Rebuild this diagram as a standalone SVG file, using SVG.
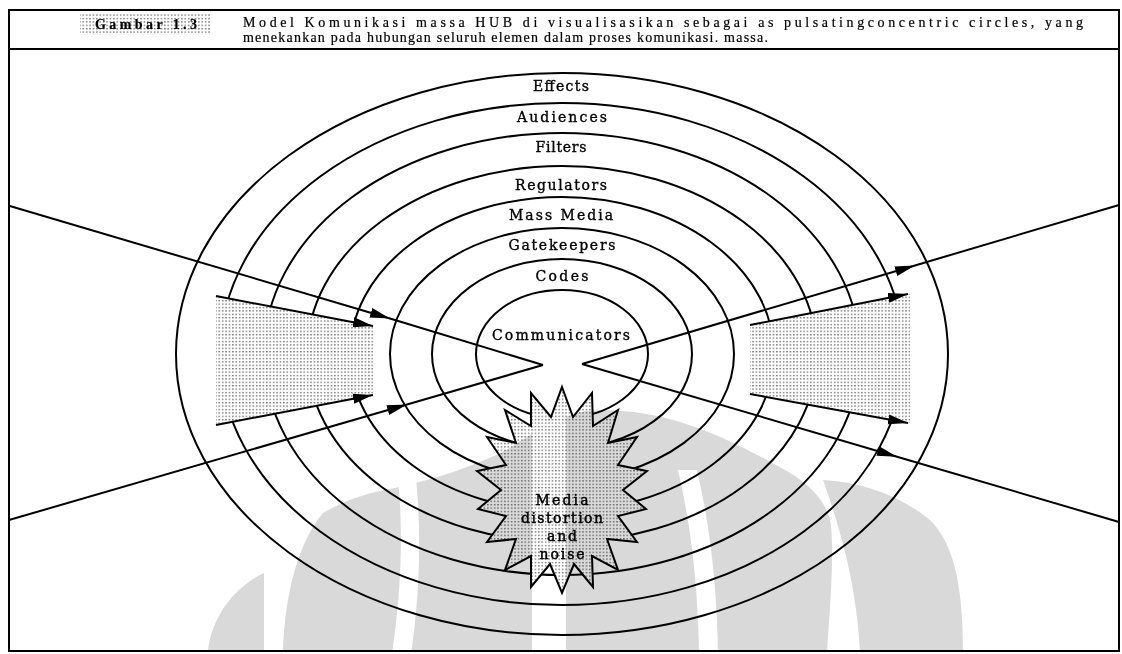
<svg xmlns="http://www.w3.org/2000/svg" width="1122" height="654" viewBox="0 0 1122 654">
<defs>
  <pattern id="stipple" width="3.4" height="3.4" patternUnits="userSpaceOnUse">
    <rect width="3.4" height="3.4" fill="#fff"/>
    <rect x="1" y="1" width="1.3" height="1.1" fill="#3a3a3a"/>
  </pattern>
  <marker id="head" markerUnits="userSpaceOnUse" markerWidth="22" markerHeight="12" refX="20" refY="6" orient="auto">
    <path d="M0,1 L20,6 L0,11 Z" fill="#000"/>
  </marker>
  <!-- light bands cut out of the emblem -->
  <mask id="emblem-cuts" maskUnits="userSpaceOnUse" x="0" y="0" width="1122" height="654">
    <rect width="1122" height="654" fill="#fff"/>
    <path d="M398,478 C404,540 400,600 392,654 L411,654 C419,600 422,540 416,478 Z" fill="#000"/>
    <path d="M532,380 L532,654 L566,654 L566,380 Z" fill="#000"/>
    <path d="M678,470 C692,530 698,590 699,654 L718,654 C717,590 711,530 697,470 Z" fill="#000"/>
  </mask>
  <style>
    .frame{fill:none;stroke:#000;stroke-width:2}
    .ring{fill:none;stroke:#000;stroke-width:2}
    .line{fill:none;stroke:#000;stroke-width:2}
    .arrow{fill:none;stroke:#000;stroke-width:2;marker-end:url(#head)}
    .through{fill:none;stroke:#000;stroke-width:2;marker-mid:url(#head)}
    .lbl{font-family:"DejaVu Serif","Liberation Serif",serif;font-size:14px;fill:#000;stroke:#000;stroke-width:0.35;text-anchor:middle}
    .burst{font-family:"DejaVu Serif","Liberation Serif",serif;font-size:14px;fill:#000;stroke:#000;stroke-width:0.45;text-anchor:middle}
    .hdr{font-family:"Liberation Serif","Times New Roman",serif;font-size:14px;fill:#000;stroke:#000;stroke-width:0.2}
    .mark{fill:#d9d9d9}
  </style>
</defs>

<rect width="1122" height="654" fill="#fff"/>

<!-- caption -->
<g id="header">
  <rect class="frame" x="9" y="10" width="1110" height="641"/>
  <line class="line" x1="9" y1="49" x2="1119" y2="49"/>
  <rect x="80" y="13" width="131" height="22" fill="url(#stipple)"/>
  <text class="hdr" x="146" y="28.5" text-anchor="middle" font-weight="bold" textLength="102" lengthAdjust="spacing">Gambar 1.3</text>
  <text class="hdr" x="243" y="27" textLength="840" lengthAdjust="spacing">Model Komunikasi massa HUB di visualisasikan sebagai  as pulsatingconcentric circles, yang</text>
  <text class="hdr" x="243" y="42" textLength="525" lengthAdjust="spacing">menekankan pada hubungan  seluruh elemen dalam proses komunikasi. massa.</text>
</g>

<!-- concentric layers -->
<g id="rings">
  <ellipse id="ring-effects" class="ring" cx="562" cy="354" rx="386" ry="281"/>
  <ellipse id="ring-audiences" class="ring" cx="562" cy="354" rx="342" ry="251"/>
  <ellipse id="ring-filters" class="ring" cx="562" cy="354" rx="298" ry="221"/>
  <ellipse id="ring-regulators" class="ring" cx="562" cy="354" rx="255" ry="188"/>
  <ellipse id="ring-massmedia" class="ring" cx="562" cy="354" rx="212" ry="157"/>
  <ellipse id="ring-gatekeepers" class="ring" cx="562" cy="354" rx="172" ry="126"/>
  <ellipse id="ring-codes" class="ring" cx="562" cy="354" rx="130" ry="95"/>
  <ellipse id="ring-communicators" class="ring" cx="562" cy="354" rx="86" ry="64"/>
</g>

<!-- shaded feedback channels -->
<g id="channel-left">
  <polygon points="216,296 373,326 373,395 216,425" fill="url(#stipple)"/>
</g>
<g id="channel-right">
  <polygon points="750,325 910,294 910,423 750,394" fill="url(#stipple)"/>
</g>

<!-- noise burst -->
<g id="noise">
  <polygon fill="url(#stipple)" stroke="#000" stroke-width="2" stroke-linejoin="miter"
    points="562,387 573,417 592,393 593,426 618,410 608,443 637,437 618,465 647,471 623,490 646,509 618,516 637,542 607,539 618,570 592,556 593,587 574,564 562,593 550,564 531,587 531,556 505,570 516,539 487,542 506,516 478,509 501,490 477,471 506,465 487,437 516,443 505,410 531,426 531,393 551,417"/>
  <text class="burst" x="562" y="505" textLength="53" lengthAdjust="spacing">Media</text>
  <text class="burst" x="562" y="523" textLength="82" lengthAdjust="spacing">distortion</text>
  <text class="burst" x="562" y="541" textLength="30" lengthAdjust="spacing">and</text>
  <text class="burst" x="562" y="559" textLength="45" lengthAdjust="spacing">noise</text>
</g>

<!-- connectors -->
<g id="connectors">
  <polyline class="through" points="9,205.7 390,318.5 543,365"/>
  <polyline class="through" points="9,520 407,404.5 543,365"/>
  <polyline class="through" points="582,364 915,265.5 1119,205"/>
  <polyline class="through" points="582,364 897,456.7 1119,522"/>
  <line class="arrow" x1="216" y1="296" x2="373" y2="326"/>
  <line class="arrow" x1="216" y1="425" x2="373" y2="395"/>
  <line class="arrow" x1="750" y1="325" x2="908" y2="294"/>
  <line class="arrow" x1="750" y1="394" x2="908" y2="423"/>
</g>

<!-- layer labels -->
<g id="labels">
  <text class="lbl" x="561" y="91" textLength="56" lengthAdjust="spacing">Effects</text>
  <text class="lbl" x="562" y="121.5" textLength="90" lengthAdjust="spacing">Audiences</text>
  <text class="lbl" x="561" y="151.5" textLength="51" lengthAdjust="spacing">Filters</text>
  <text class="lbl" x="561" y="190" textLength="92" lengthAdjust="spacing">Regulators</text>
  <text class="lbl" x="561" y="220" textLength="104" lengthAdjust="spacing">Mass Media</text>
  <text class="lbl" x="562" y="250" textLength="107" lengthAdjust="spacing">Gatekeepers</text>
  <text class="lbl" x="562" y="281" textLength="53" lengthAdjust="spacing">Codes</text>
  <text class="lbl" x="561" y="340" textLength="138" lengthAdjust="spacing">Communicators</text>
</g>

<!-- faint emblem printed over the lower half -->
<g id="emblem" style="mix-blend-mode:multiply" mask="url(#emblem-cuts)">
  <path class="mark" d="M208,651 C210,625 228,590 264,573 L264,651 Z"/>
  <path class="mark" d="M283,651 C285,590 300,540 323,513 C345,500 370,492 395,488 C440,478 480,464 510,448 C535,432 555,418 585,411 C620,408 655,414 680,422 C720,434 763,457 795,476 C815,490 828,505 831,525 C834,560 830,610 827,651 Z"/>
  <path class="mark" d="M823,480 C860,482 900,495 930,520 C952,542 963,580 963,651 L860,651 C857,600 848,550 823,480 Z"/>
</g>
</svg>
